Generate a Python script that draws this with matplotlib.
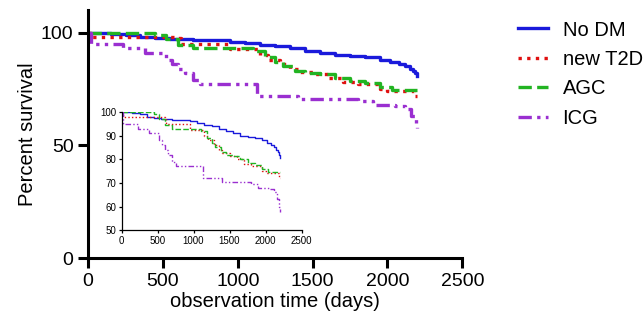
import matplotlib

matplotlib.use("Agg")
import matplotlib.pyplot as plt

plt.rcParams["font.family"] = ["Liberation Sans", "DejaVu Sans"]

# ── Data (Kaplan-Meier steps) ────────────────────────────────────────────────
nodm_t = [0, 150, 250, 350, 450, 550, 700, 850, 950, 1050, 1150, 1250, 1350,
          1450, 1550, 1650, 1750, 1850, 1950, 2020, 2080, 2120, 2150, 2170,
          2185, 2200]
nodm_s = [100, 99.5, 99, 98, 97.5, 97, 96.8, 96.5, 96, 95.5, 94.5, 94, 93,
          92, 91, 90, 89.5, 89, 88, 87, 86, 85, 84, 83, 82, 80.5]

t2d_t = [0, 20, 600, 620, 950, 1150, 1200, 1280, 1350, 1400, 1500, 1600,
         1700, 1800, 1950, 2000, 2180, 2200]
t2d_s = [100, 98, 97.5, 95, 92.5, 90, 88, 86, 84, 82.5, 81.5, 80, 78, 77,
         75, 74, 72, 72]

agc_t = [0, 450, 520, 600, 700, 1100, 1180, 1250, 1300, 1380, 1450, 1550,
         1650, 1750, 1850, 1950, 2030, 2200]
agc_s = [100, 99, 97, 94.5, 93, 92, 89, 87, 85, 83, 82, 81.5, 80, 78.5,
         77.5, 76, 74.5, 74.5]

icg_t = [0, 20, 230, 380, 520, 560, 600, 650, 700, 750, 1130, 1400, 1800,
         1900, 2050, 2120, 2160, 2190, 2200]
icg_s = [100, 95, 93, 91, 88, 86, 84, 82, 79, 77, 72, 70.5, 69.5, 68, 67.5,
         66, 63, 60, 57.5]

labels = ["No DM", "new T2D", "AGC", "ICG"]
main_ticks_x = [0, 500, 1000, 1500, 2000, 2500]
main_ticks_y = [0, 50, 100]
inset_ticks_y = [50, 60, 70, 80, 90, 100]

STYLES = [
    dict(color="#1a1adb", ls="-"),
    dict(color="#e01010", ls=(0, (1, 1.6))),
    dict(color="#22b422", ls=(0, (4, 1.6))),
    dict(color="#9a2fd0", ls=(0, (4, 1.6, 1, 1.6, 1, 1.6))),
]
series = [(nodm_t, nodm_s), (t2d_t, t2d_s), (agc_t, agc_s), (icg_t, icg_s)]

fig = plt.figure(figsize=(6.43, 3.21), dpi=100)

# ── Main axes ────────────────────────────────────────────────────────────────
ax = fig.add_axes([0.137, 0.196, 0.582, 0.773])
handles = []
for (t, s), lab, st in zip(series, labels, STYLES):
    h, = ax.step(t, s, where="post", lw=2.4, label=lab, **st)
    handles.append(h)
ax.set_xlim(0, 2500)
ax.set_ylim(0, 110)
ax.set_xticks(main_ticks_x)
ax.set_yticks(main_ticks_y)
for side in ["top", "right"]:
    ax.spines[side].set_visible(False)
for side in ["left", "bottom"]:
    ax.spines[side].set_linewidth(2.2)
ax.tick_params(width=2.2, length=7, labelsize=14, direction="out")
ax.set_xlabel("observation time (days)", fontsize=14.5, labelpad=2)
ax.set_ylabel("Percent survival", fontsize=14.5, labelpad=3)

fig.legend(handles=handles, loc="upper left", bbox_to_anchor=(0.806, 0.936),
           frameon=False, fontsize=14.5, handlelength=1.5, handletextpad=0.7,
           labelspacing=0.52, borderpad=0, borderaxespad=0)

# ── Inset ────────────────────────────────────────────────────────────────────
ins = fig.add_axes([0.189, 0.283, 0.28, 0.368])
for (t, s), st in zip(series, STYLES):
    ins.step(t, s, where="post", lw=1.0, **st)
ins.set_xlim(0, 2500)
ins.set_ylim(50, 100)
ins.set_xticks(main_ticks_x)
ins.set_yticks(inset_ticks_y)
for side in ["top", "right"]:
    ins.spines[side].set_visible(False)
for side in ["left", "bottom"]:
    ins.spines[side].set_linewidth(0.9)
ins.tick_params(width=0.9, length=2.5, labelsize=7, pad=1.5)
ins.patch.set_alpha(0)

fig.savefig("out.png", dpi=100)
